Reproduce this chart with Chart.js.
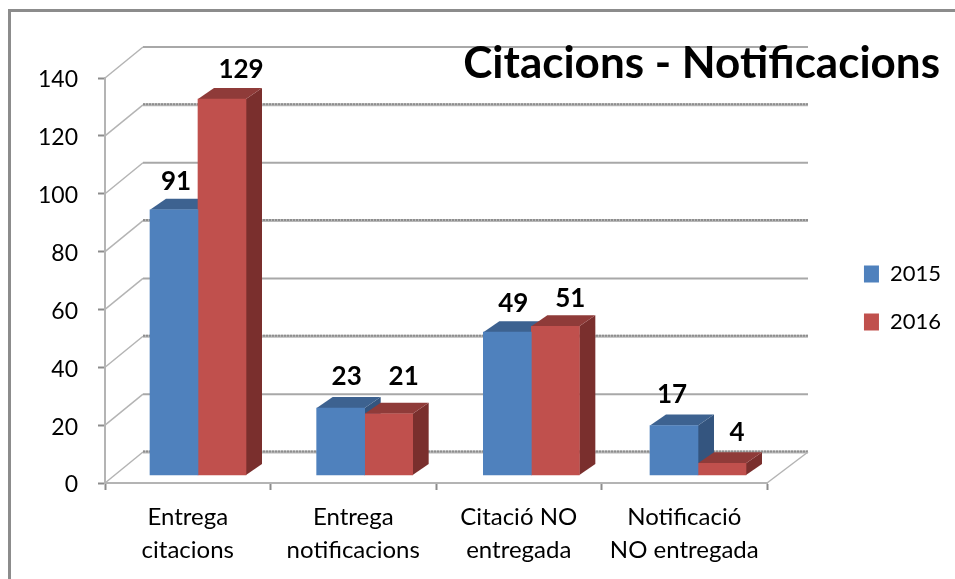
<!DOCTYPE html>
<html>
<head>
<meta charset="utf-8">
<title>Citacions - Notificacions</title>
<script src="https://cdn.jsdelivr.net/npm/chart.js@4"></script>
<style>
  body { margin: 0; background: #fff; }
  #frame { position: absolute; left: 8px; top: 9px; right: 0; bottom: 0; border-left: 3px solid #8c8c8c; border-top: 3px solid #8c8c8c; }
  #wrap { position: absolute; left: 0; top: 0; width: 955px; height: 579px; }
  canvas { display: block; }
</style>
</head>
<body>
<div id="frame"></div>
<div id="wrap"><canvas id="chart" width="955" height="579"></canvas></div>
<script>
const categories = [
  ['Entrega', 'citacions'],
  ['Entrega', 'notificacions'],
  ['Citació NO', 'entregada'],
  ['Notificació', 'NO entregada']
];
const seriesNames = ['2015', '2016'];
const values2015 = [91, 23, 49, 17];
const values2016 = [129, 21, 51, 4];

const faceColors = ['#4f81bd', '#c0504d'];
const topColors = ['#3d6290', '#8f3b39'];
const sideColors = ['#34557f', '#7a2f2d'];

// depth of the back wall and of the bars, in pixels
const wallDx = 38, wallDy = 31;
const barDx = 16, barDy = 11;
// the value labels were moved by hand in the original
const labelNudge = [
  [[2, -28], [6, -31], [6, -29], [-2, -31]],
  [[19, -29], [15, -37], [15, -28], [15, -31]]
];
const legendShift = 11;
const fontName = 'Lato, "Open Sans", sans-serif';

const toPoints = vals => vals.map((v, i) => ({ x: i, y: v }));

function poly(ctx, pts, color) {
  ctx.fillStyle = color;
  ctx.beginPath();
  pts.forEach((p, i) => i ? ctx.lineTo(p[0], p[1]) : ctx.moveTo(p[0], p[1]));
  ctx.closePath();
  ctx.fill();
}

const wallPlugin = {
  id: 'wall',
  afterLayout(chart) {
    chart.legend.left += legendShift;
    chart.legend.right += legendShift;
  },
  beforeDraw(chart) {
    const ctx = chart.ctx, y = chart.scales.y, a = chart.chartArea;
    ctx.save();
    y.ticks.forEach(t => {
      const py = y.getPixelForValue(t.value);
      ctx.strokeStyle = '#b4b4b4';
      ctx.lineWidth = 1.5;
      ctx.setLineDash([]);
      ctx.beginPath();
      ctx.moveTo(a.left, py);
      ctx.lineTo(a.left + wallDx, py - wallDy);
      ctx.stroke();
      ctx.lineWidth = 2;
      ctx.strokeStyle = '#a8a8a8';
      if (t.value % 40 === 0) {
        ctx.strokeStyle = '#b8b8b8';
        ctx.lineWidth = 3;
      }
      ctx.beginPath();
      ctx.moveTo(a.left + wallDx, py - wallDy);
      ctx.lineTo(a.right + wallDx + 3, py - wallDy);
      ctx.stroke();
      if (t.value % 40 === 0) {
        ctx.strokeStyle = '#8e8e8e';
        ctx.lineWidth = 2;
        ctx.setLineDash([2, 1]);
        ctx.beginPath();
        ctx.moveTo(a.left + wallDx, py - wallDy - 0.5);
        ctx.lineTo(a.right + wallDx + 3, py - wallDy - 0.5);
        ctx.stroke();
      }
    });
    // right edge of the floor
    ctx.setLineDash([]);
    ctx.strokeStyle = '#b4b4b4';
    ctx.lineWidth = 1.5;
    ctx.beginPath();
    ctx.moveTo(a.right, a.bottom);
    ctx.lineTo(a.right + wallDx + 3, a.bottom - wallDy);
    ctx.stroke();
    ctx.restore();
  },
  beforeDatasetsDraw(chart) {
    const ctx = chart.ctx;
    chart.data.datasets.forEach((ds, d) => {
      chart.getDatasetMeta(d).data.forEach(bar => {
        const l = bar.x - bar.width / 2, r = bar.x + bar.width / 2;
        poly(ctx, [[r, bar.y], [r + barDx, bar.y - barDy], [r + barDx, bar.base - barDy], [r, bar.base]], sideColors[d]);
        poly(ctx, [[l, bar.y], [l + barDx, bar.y - barDy], [r + barDx, bar.y - barDy], [r, bar.y]], topColors[d]);
      });
    });
  },
  afterDatasetsDraw(chart) {
    const ctx = chart.ctx;
    ctx.save();
    ctx.fillStyle = '#000';
    ctx.font = 'bold 26px ' + fontName;
    ctx.textAlign = 'center';
    ctx.textBaseline = 'middle';
    chart.data.datasets.forEach((ds, d) => {
      chart.getDatasetMeta(d).data.forEach((bar, i) => {
        const n = labelNudge[d][i];
        ctx.fillText(ds.data[i].y, bar.x + n[0], bar.y + n[1]);
      });
    });
    ctx.restore();
  }
};

new Chart(document.getElementById('chart'), {
  type: 'bar',
  data: {
    labels: categories,
    datasets: [
      { label: seriesNames[0], data: toPoints(values2015), backgroundColor: faceColors[0], xAxisID: 'xBars', yAxisID: 'yBars', barThickness: 48 },
      { label: seriesNames[1], data: toPoints(values2016), backgroundColor: faceColors[1], xAxisID: 'xBars', yAxisID: 'yBars', barThickness: 48 }
    ]
  },
  plugins: [wallPlugin],
  options: {
    responsive: false,
    animation: false,
    layout: { padding: { left: 0, right: 15, top: 17, bottom: 0 } },
    plugins: {
      tooltip: { enabled: false },
      title: {
        display: true,
        text: 'Citacions - Notificacions',
        align: 'end',
        color: '#000',
        font: { family: fontName, size: 44, weight: 'bold', lineHeight: 1.2 },
        padding: { top: 20.6, bottom: -12.4 }
      },
      legend: {
        position: 'right',
        labels: {
          color: '#000',
          font: { family: fontName, size: 22 },
          boxWidth: 15,
          boxHeight: 17,
          padding: 26
        }
      }
    },
    scales: {
      x: {
        type: 'category',
        offset: true,
        grid: { offset: true, drawOnChartArea: false, drawTicks: true, tickLength: 7, tickColor: '#8c8c8c', tickWidth: 2 },
        border: { color: '#b4b4b4', width: 2, dash: [2, 1] },
        ticks: { color: '#000', font: { family: fontName, size: 24, lineHeight: 1.375 }, padding: 11, maxRotation: 0, autoSkip: false },
        afterFit(scale) { scale.height = 96; }
      },
      y: {
        min: 0,
        max: 140,
        grid: { drawOnChartArea: false, drawTicks: true, tickLength: 7, tickColor: '#8c8c8c', tickWidth: 2 },
        border: { color: '#b4b4b4', width: 2, dash: [2, 1] },
        ticks: { stepSize: 20, color: '#000', font: { family: fontName, size: 23 }, padding: 20, labelOffset: 2 },
        afterFit(scale) { scale.width = 105; }
      },
      // the bars stand a little inside the floor, on a plane of their own
      xBars: { type: 'linear', display: false, offset: false, grid: { offset: false }, min: -0.558, max: 3.414 },
      yBars: {
        position: 'right',
        min: -2.74,
        max: 136.2,
        grid: { display: false },
        border: { display: false },
        ticks: { display: false },
        afterFit(scale) { scale.width = 955 - 15 - 767 - scale.chart.legend.width; }
      }
    }
  }
});
</script>
</body>
</html>
